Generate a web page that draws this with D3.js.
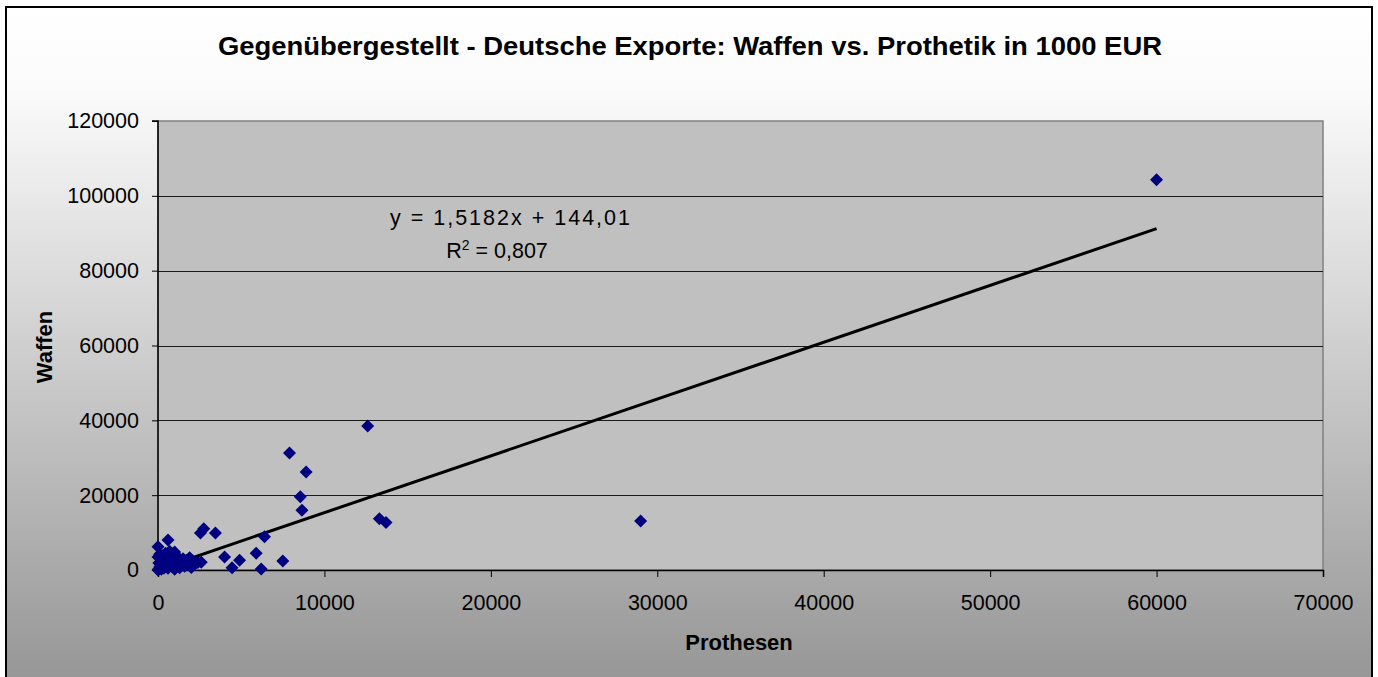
<!DOCTYPE html>
<html><head><meta charset="utf-8">
<script src="https://cdn.jsdelivr.net/npm/d3@7"></script>
<style>html,body{margin:0;padding:0;background:#fff;}svg{display:block;}</style>
</head><body>
<script>
const title = "Gegenübergestellt - Deutsche Exporte: Waffen vs. Prothetik in 1000 EUR";
const xLabel = "Prothesen";
const yLabel = "Waffen";
const xTicks = [0,10000,20000,30000,40000,50000,60000,70000];
const yTicks = [0,20000,40000,60000,80000,100000,120000];
// Prothesen (x) and Waffen (y), in 1000 EUR
const prothesen = [60000,29000,12600,7900,8900,8550,8650,13300,13700,6400,7500,5900,6200,4000,4450,4900,2550,2750,3450,600,0,
  0,50,100,150,200,300,400,500,600,700,800,900,1000,1100,1200,1300,1400,1500,1600,1700,1800,1900,2000,2100,2200,2400,2600,50,0,100,250,350,450,700,1000,1300,800,200];
const waffen = [104300,13100,38500,31300,26200,19600,16000,13700,12700,8900,2400,4500,300,3500,600,2600,9900,11000,9900,8000,6200,
  0,300,800,1500,200,2500,1200,3000,500,1800,4000,2800,4800,1200,3400,600,2200,3000,1000,2600,1500,3300,700,2400,1600,2000,2100,1900,3500,4200,3800,500,4500,5000,200,2400,1000,2900];
const slope = 1.5182, intercept = 144.01;
const eqText = "y = 1,5182x + 144,01";
const r2Value = "0,807";

const W = 1378, H = 677;
const svg = d3.select("body").append("svg").attr("width", W).attr("height", H);
const defs = svg.append("defs");
const grad = defs.append("linearGradient").attr("id","bg").attr("x1",0).attr("y1",0).attr("x2",0).attr("y2",1);
grad.append("stop").attr("offset","0").attr("stop-color","#ffffff");
grad.append("stop").attr("offset","0.12").attr("stop-color","#fbfbfb");
grad.append("stop").attr("offset","1").attr("stop-color","#959595");
svg.append("rect").attr("x",6).attr("y",7).attr("width",1366).attr("height",680)
  .attr("fill","url(#bg)").attr("stroke","#000").attr("stroke-width",2);

const m = {l:158, r:1323, t:121, b:570};
const x = d3.scaleLinear().domain([0,70000]).range([m.l, m.r]);
const y = d3.scaleLinear().domain([0,120000]).range([m.b, m.t]);

svg.append("rect").attr("x",m.l).attr("y",m.t).attr("width",m.r-m.l).attr("height",m.b-m.t)
  .attr("fill","#c0c0c0").attr("stroke","#808080").attr("stroke-width",1.5);

// gridlines
svg.append("g").selectAll("line").data(yTicks.filter(d=>d>0 && d<120000)).join("line")
  .attr("x1",m.l).attr("x2",m.r).attr("y1",d=>Math.round(y(d))+0.5).attr("y2",d=>Math.round(y(d))+0.5)
  .attr("stroke","#1a1a1a").attr("stroke-width",1);

const font = "'Liberation Sans', Arial, sans-serif";
const xAxis = svg.append("g").attr("transform",`translate(0,${m.b})`)
  .call(d3.axisBottom(x).tickValues(xTicks).tickSize(7).tickPadding(18).tickFormat(d3.format("d")));
const yAxis = svg.append("g").attr("transform",`translate(${m.l},0)`)
  .call(d3.axisLeft(y).tickValues(yTicks).tickSize(6).tickPadding(13).tickFormat(d3.format("d")));
[xAxis,yAxis].forEach(a=>{
  a.select(".domain").attr("stroke","#000").attr("stroke-width",1.5);
  a.selectAll(".tick line").attr("stroke","#000");
  a.selectAll("text").attr("font-family",font).attr("font-size",21.5).attr("fill","#000");
});
yAxis.select(".domain").attr("d",`M-6,${m.t}H0V${m.b}H-6`).attr("stroke","#000");

// trendline
const xMax = d3.max(prothesen);
svg.append("line").attr("x1",x(0)).attr("y1",y(intercept)).attr("x2",x(xMax)).attr("y2",y(slope*xMax+intercept))
  .attr("stroke","#000").attr("stroke-width",3);

// points
const pts = prothesen.map((p,i)=>({x:p,y:waffen[i]}));
const r = 6.5;
svg.append("g").selectAll("path").data(pts).join("path")
  .attr("d",d=>`M${x(d.x)},${y(d.y)-r}L${x(d.x)+r},${y(d.y)}L${x(d.x)},${y(d.y)+r}L${x(d.x)-r},${y(d.y)}Z`)
  .attr("fill","#000080");

// texts
svg.append("text").attr("x",690).attr("y",55).attr("text-anchor","middle")
  .attr("font-family",font).attr("font-weight","bold").attr("font-size",25)
  .attr("textLength",944).attr("lengthAdjust","spacingAndGlyphs").text(title);
svg.append("text").attr("x",739).attr("y",650).attr("text-anchor","middle")
  .attr("font-family",font).attr("font-weight","bold").attr("font-size",22).text(xLabel);
svg.append("text").attr("transform","translate(52,347) rotate(-90)").attr("text-anchor","middle")
  .attr("font-family",font).attr("font-weight","bold").attr("font-size",22).text(yLabel);
svg.append("text").attr("x",510).attr("y",225).attr("text-anchor","middle")
  .attr("font-family",font).attr("font-size",21.5)
  .attr("textLength",240).attr("lengthAdjust","spacing").text(eqText);
const r2 = svg.append("text").attr("x",497).attr("y",258).attr("text-anchor","middle")
  .attr("font-family",font).attr("font-size",21.5);
r2.append("tspan").text("R");
r2.append("tspan").attr("dy",-8).attr("font-size",14).text("2");
r2.append("tspan").attr("dy",8).text(" = " + r2Value);
</script>
</body></html>
